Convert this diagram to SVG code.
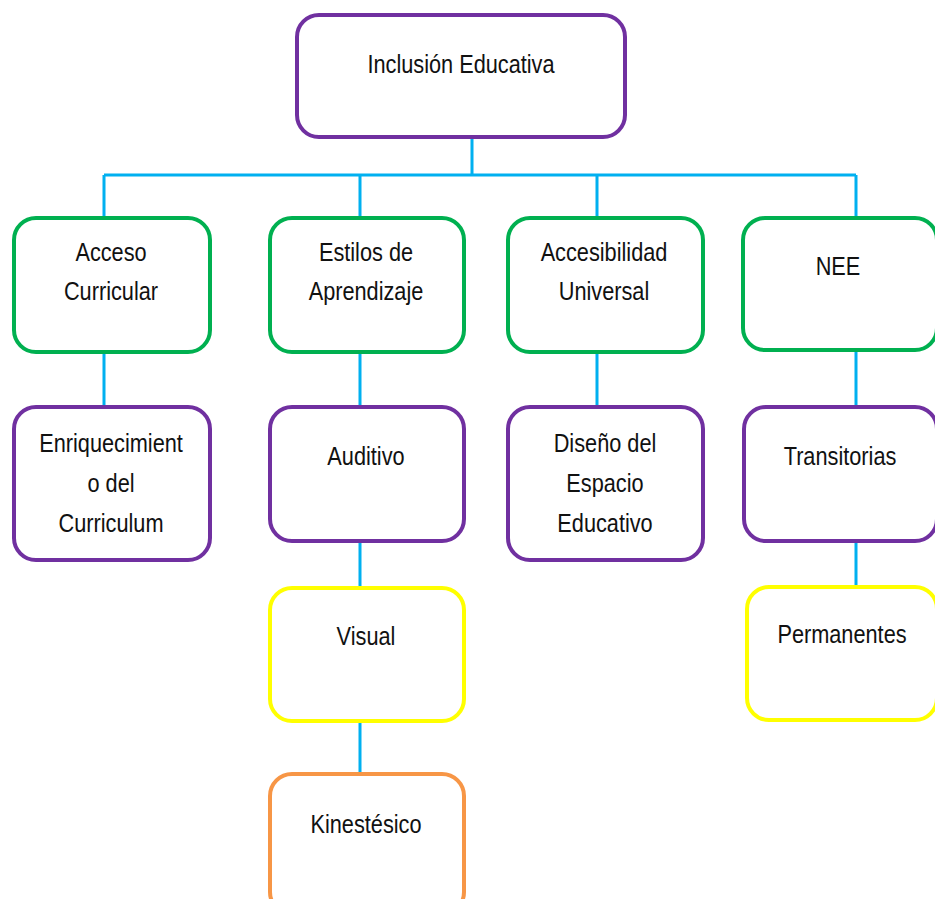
<svg xmlns="http://www.w3.org/2000/svg" width="935" height="899" viewBox="0 0 935 899">
<style>
.box{fill:#fff;stroke-width:4}
.p{stroke:#7030A0}
.g{stroke:#00B050}
.y{stroke:#FFFF00}
.o{stroke:#F79646}
.t{font-family:"Liberation Sans",Arial,sans-serif;font-size:26.5px;fill:#111;text-anchor:middle}
.c{stroke:#00B0F0;stroke-width:3;fill:none}
</style>
<rect width="935" height="899" fill="#fff"/>
<g id="connectors">
<path class="c" d="M472 139V175M104 175H856M104 175V216M360 175V216M597 175V216M856 175V218"/>
<path class="c" d="M104 354V405M360 354V405M597 354V405M856 350V405"/>
<path class="c" d="M360 543V586M360 723V772M856 543V585"/>
</g>
<g id="n-inclusion">
<rect class="box p" x="297" y="15" width="328" height="122" rx="22"/>
<text class="t" transform="translate(461 73) scale(0.82 1)">Inclusión Educativa</text>
</g>
<g id="n-acceso">
<rect class="box g" x="14" y="218" width="196" height="134" rx="22"/>
<text class="t" transform="translate(111 261) scale(0.82 1)">Acceso</text>
<text class="t" transform="translate(111 300) scale(0.82 1)">Curricular</text>
</g>
<g id="n-estilos">
<rect class="box g" x="270" y="218" width="194" height="134" rx="22"/>
<text class="t" transform="translate(366 261) scale(0.82 1)">Estilos de</text>
<text class="t" transform="translate(366 300) scale(0.82 1)">Aprendizaje</text>
</g>
<g id="n-accesibilidad">
<rect class="box g" x="508" y="218" width="195" height="134" rx="22"/>
<text class="t" transform="translate(604 261) scale(0.82 1)">Accesibilidad</text>
<text class="t" transform="translate(604 300) scale(0.82 1)">Universal</text>
</g>
<g id="n-nee">
<rect class="box g" x="743" y="218" width="194" height="132" rx="22"/>
<text class="t" transform="translate(838 275) scale(0.82 1)">NEE</text>
</g>
<g id="n-enriquecimiento">
<rect class="box p" x="14" y="407" width="196" height="153" rx="22"/>
<text class="t" transform="translate(111 452) scale(0.82 1)">Enriquecimient</text>
<text class="t" transform="translate(111 492) scale(0.82 1)">o del</text>
<text class="t" transform="translate(111 532) scale(0.82 1)">Curriculum</text>
</g>
<g id="n-auditivo">
<rect class="box p" x="270" y="407" width="194" height="134" rx="22"/>
<text class="t" transform="translate(366 465) scale(0.82 1)">Auditivo</text>
</g>
<g id="n-diseno">
<rect class="box p" x="508" y="407" width="195" height="153" rx="22"/>
<text class="t" transform="translate(605 452) scale(0.82 1)">Diseño del</text>
<text class="t" transform="translate(605 492) scale(0.82 1)">Espacio</text>
<text class="t" transform="translate(605 532) scale(0.82 1)">Educativo</text>
</g>
<g id="n-transitorias">
<rect class="box p" x="744" y="407" width="193" height="134" rx="22"/>
<text class="t" transform="translate(840 465) scale(0.82 1)">Transitorias</text>
</g>
<g id="n-visual">
<rect class="box y" x="270" y="588" width="194" height="133" rx="22"/>
<text class="t" transform="translate(366 645) scale(0.82 1)">Visual</text>
</g>
<g id="n-permanentes">
<rect class="box y" x="747" y="587" width="190" height="133" rx="22"/>
<text class="t" transform="translate(842 643) scale(0.82 1)">Permanentes</text>
</g>
<g id="n-kinestesico">
<rect class="box o" x="270" y="774" width="194" height="140" rx="22"/>
<text class="t" transform="translate(366 833) scale(0.82 1)">Kinestésico</text>
</g>
</svg>
